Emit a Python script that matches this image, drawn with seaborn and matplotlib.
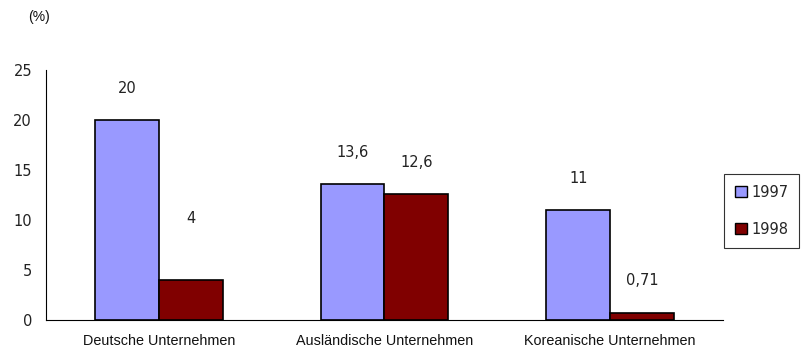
import matplotlib
matplotlib.use("Agg")
import matplotlib.pyplot as plt
from matplotlib.patches import Patch
import seaborn as sns
import pandas as pd

# Data
categories = ["Deutsche Unternehmen", "Ausländische Unternehmen", "Koreanische Unternehmen"]
years = ["1997", "1998"]
values_1997 = [20, 13.6, 11]
values_1998 = [4, 12.6, 0.71]
value_labels_1997 = ["20", "13,6", "11"]
value_labels_1998 = ["4", "12,6", "0,71"]
y_ticks = [0, 5, 10, 15, 20, 25]

colors = {"1997": "#9999FF", "1998": "#800000"}

df = pd.DataFrame({
    "Kategorie": categories * 2,
    "Jahr": [years[0]] * 3 + [years[1]] * 3,
    "Wert": values_1997 + values_1998,
})

sns.set_style("white")
plt.rcParams["font.family"] = ["DejaVu Sans"]

fig = plt.figure(figsize=(8.03, 3.53), dpi=100)
ax = fig.add_axes([46 / 803, 1 - 320 / 353, (723 - 46) / 803, (320 - 70) / 353])

sns.barplot(data=df, x="Kategorie", y="Wert", hue="Jahr", palette=colors,
            width=0.566, edgecolor="black", linewidth=1.2, saturation=1,
            legend=False, ax=ax)

ax.set_xlim(-0.5, 2.5)
ax.set_ylim(0, 25)
ax.set_xlabel("")
ax.set_ylabel("")

# Value labels above bars
labels_by_year = [value_labels_1997, value_labels_1998]
for container, labels in zip(ax.containers, labels_by_year):
    for bar, lab in zip(container, labels):
        cx = bar.get_x() + bar.get_width() / 2
        top = bar.get_height()
        dy = 44 if lab == "4" else 23
        ax.annotate(lab, (cx, top), xytext=(0, dy), textcoords="offset points",
                    ha="center", va="center", fontsize=10.5, color="#222222")

# Axes styling
for side in ["top", "right"]:
    ax.spines[side].set_visible(False)
for side in ["left", "bottom"]:
    ax.spines[side].set_color("black")
    ax.spines[side].set_linewidth(0.8)

ax.set_yticks(y_ticks)
ax.set_yticklabels([str(t) for t in y_ticks], fontsize=10.5, color="#222222")
ax.tick_params(axis="y", direction="inout", length=8, width=0.8, color="black", pad=6)

# Category labels centred, separator ticks at group boundaries
ax.set_xticks([0, 1, 2])
ax.set_xticklabels(categories, fontsize=10.4, family=["Liberation Sans"], color="#111111")
ax.tick_params(axis="x", length=0, pad=10)
ax.set_xticks([-0.5, 0.5, 1.5, 2.5], minor=True)
ax.tick_params(axis="x", which="minor", direction="inout", length=8, width=0.8, color="black")

fig.text(28 / 803, 1 - 17 / 353, "(%)", fontsize=10, family=["Liberation Sans"],
         va="center", ha="left", color="#111111")

handles = [Patch(facecolor=colors[y], edgecolor="black", linewidth=1.0, label=y) for y in years]
leg = fig.legend(handles=handles, loc="upper left", bbox_to_anchor=(724 / 803, 1 - 174 / 353),
                 borderaxespad=0, frameon=True, fancybox=False, fontsize=10.5,
                 handlelength=0.8, handleheight=0.8, handletextpad=0.3,
                 labelspacing=1.5, borderpad=0.75)
leg.get_frame().set_edgecolor("black")
leg.get_frame().set_linewidth(0.8)

fig.savefig("out.png", dpi=100)
